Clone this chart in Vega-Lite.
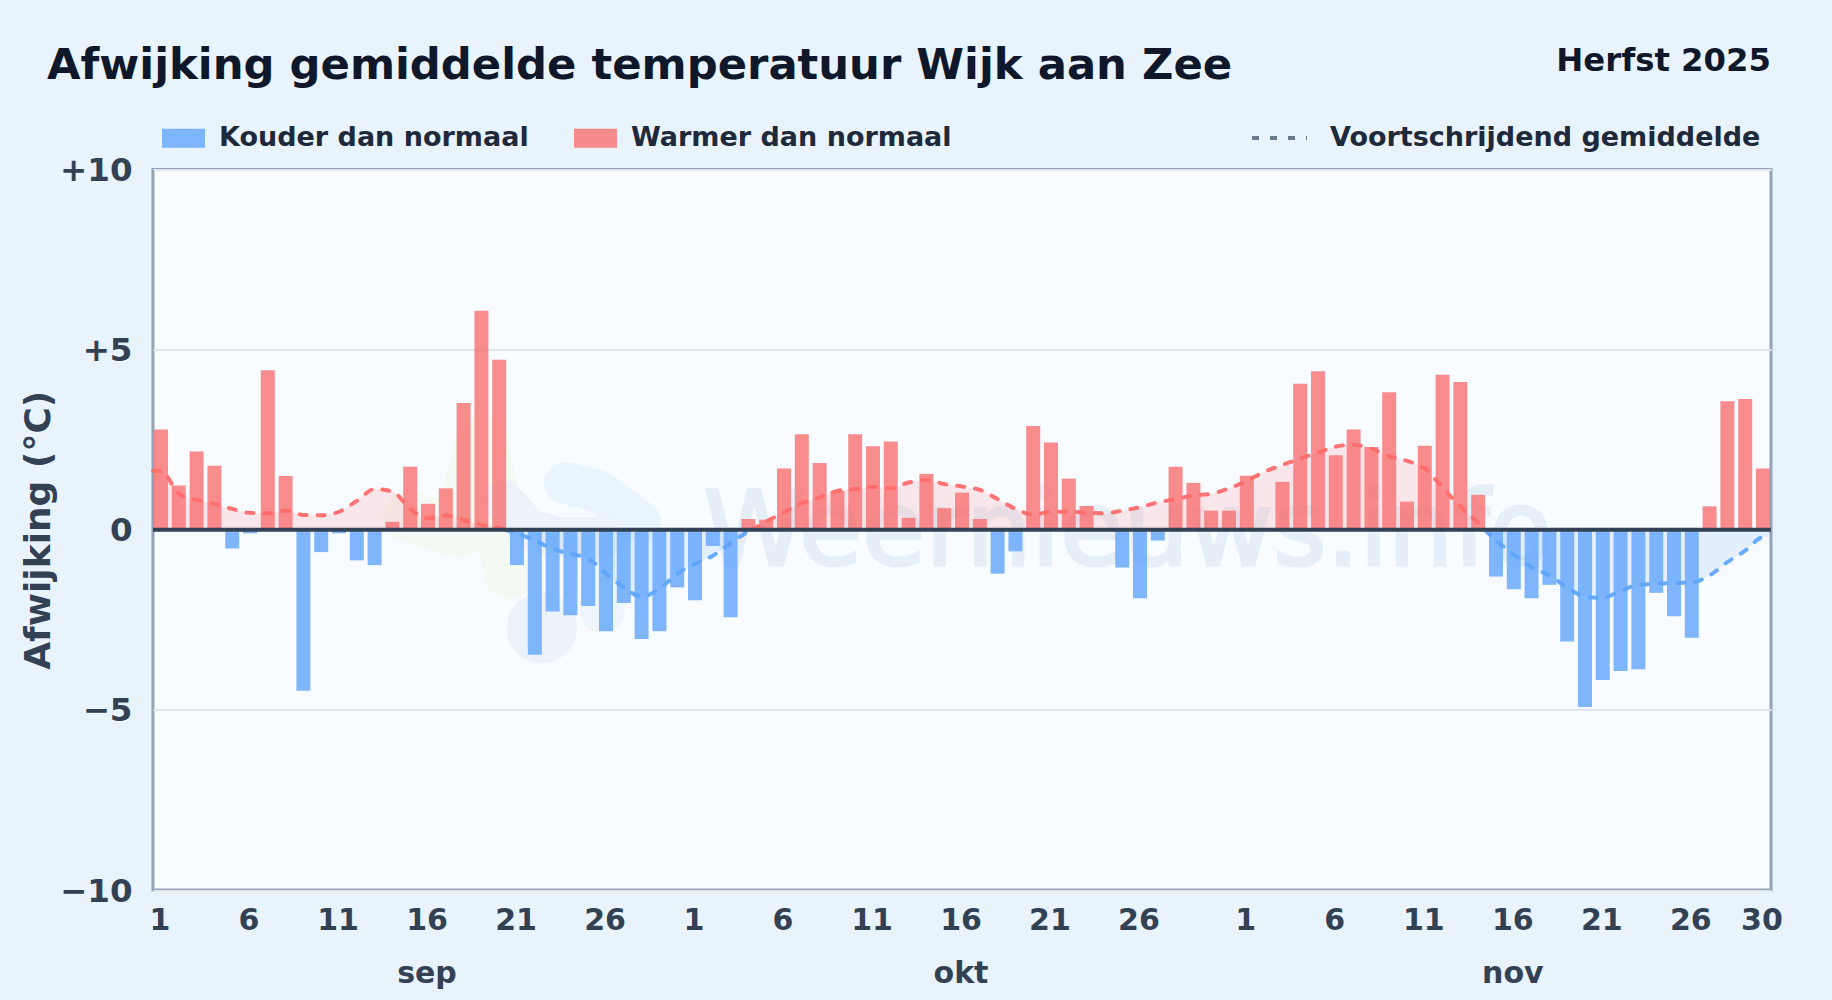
{
"$schema":"https://vega.github.io/schema/vega-lite/v6.json",
"width":1618,"height":720.5,
"autosize":{"type":"none"},
"padding":{"left":153,"top":169.5,"right":61,"bottom":110},
"background":"#e9f3fc",
"view":{"fill":"#f8fbff","stroke":"#94a3b8","strokeWidth":3},
"title":{"text":"Afwijking gemiddelde temperatuur Wijk aan Zee","anchor":"start","frame":"group","dx":-106,"offset":-44,"font":"DejaVu Sans","fontWeight":"bold","fontSize":43.3,"color":"#0f172a"},
"datasets":{
"staven":[
{"date":"2025-09-01","value":2.78,"categorie":"Warmer dan normaal"},{"date":"2025-09-02","value":1.23,"categorie":"Warmer dan normaal"},{"date":"2025-09-03","value":2.17,"categorie":"Warmer dan normaal"},{"date":"2025-09-04","value":1.78,"categorie":"Warmer dan normaal"},{"date":"2025-09-05","value":-0.52,"categorie":"Kouder dan normaal"},{"date":"2025-09-06","value":-0.1,"categorie":"Kouder dan normaal"},{"date":"2025-09-07","value":4.43,"categorie":"Warmer dan normaal"},{"date":"2025-09-08","value":1.49,"categorie":"Warmer dan normaal"},{"date":"2025-09-09","value":-4.47,"categorie":"Kouder dan normaal"},{"date":"2025-09-10","value":-0.62,"categorie":"Kouder dan normaal"},{"date":"2025-09-11","value":-0.1,"categorie":"Kouder dan normaal"},{"date":"2025-09-12","value":-0.85,"categorie":"Kouder dan normaal"},{"date":"2025-09-13","value":-0.98,"categorie":"Kouder dan normaal"},{"date":"2025-09-14","value":0.22,"categorie":"Warmer dan normaal"},{"date":"2025-09-15","value":1.75,"categorie":"Warmer dan normaal"},{"date":"2025-09-16","value":0.72,"categorie":"Warmer dan normaal"},{"date":"2025-09-17","value":1.15,"categorie":"Warmer dan normaal"},{"date":"2025-09-18","value":3.52,"categorie":"Warmer dan normaal"},{"date":"2025-09-19","value":6.08,"categorie":"Warmer dan normaal"},{"date":"2025-09-20","value":4.72,"categorie":"Warmer dan normaal"},{"date":"2025-09-21","value":-0.98,"categorie":"Kouder dan normaal"},{"date":"2025-09-22","value":-3.47,"categorie":"Kouder dan normaal"},{"date":"2025-09-23","value":-2.27,"categorie":"Kouder dan normaal"},{"date":"2025-09-24","value":-2.37,"categorie":"Kouder dan normaal"},{"date":"2025-09-25","value":-2.12,"categorie":"Kouder dan normaal"},{"date":"2025-09-26","value":-2.82,"categorie":"Kouder dan normaal"},{"date":"2025-09-27","value":-2.03,"categorie":"Kouder dan normaal"},{"date":"2025-09-28","value":-3.03,"categorie":"Kouder dan normaal"},{"date":"2025-09-29","value":-2.82,"categorie":"Kouder dan normaal"},{"date":"2025-09-30","value":-1.6,"categorie":"Kouder dan normaal"},
{"date":"2025-10-01","value":-1.96,"categorie":"Kouder dan normaal"},{"date":"2025-10-02","value":-0.45,"categorie":"Kouder dan normaal"},{"date":"2025-10-03","value":-2.43,"categorie":"Kouder dan normaal"},{"date":"2025-10-04","value":0.3,"categorie":"Warmer dan normaal"},{"date":"2025-10-05","value":0.28,"categorie":"Warmer dan normaal"},{"date":"2025-10-06","value":1.7,"categorie":"Warmer dan normaal"},{"date":"2025-10-07","value":2.65,"categorie":"Warmer dan normaal"},{"date":"2025-10-08","value":1.85,"categorie":"Warmer dan normaal"},{"date":"2025-10-09","value":1.08,"categorie":"Warmer dan normaal"},{"date":"2025-10-10","value":2.65,"categorie":"Warmer dan normaal"},{"date":"2025-10-11","value":2.32,"categorie":"Warmer dan normaal"},{"date":"2025-10-12","value":2.45,"categorie":"Warmer dan normaal"},{"date":"2025-10-13","value":0.33,"categorie":"Warmer dan normaal"},{"date":"2025-10-14","value":1.55,"categorie":"Warmer dan normaal"},{"date":"2025-10-15","value":0.6,"categorie":"Warmer dan normaal"},{"date":"2025-10-16","value":1.03,"categorie":"Warmer dan normaal"},{"date":"2025-10-17","value":0.3,"categorie":"Warmer dan normaal"},{"date":"2025-10-18","value":-1.22,"categorie":"Kouder dan normaal"},{"date":"2025-10-19","value":-0.6,"categorie":"Kouder dan normaal"},{"date":"2025-10-20","value":2.88,"categorie":"Warmer dan normaal"},{"date":"2025-10-21","value":2.42,"categorie":"Warmer dan normaal"},{"date":"2025-10-22","value":1.42,"categorie":"Warmer dan normaal"},{"date":"2025-10-23","value":0.66,"categorie":"Warmer dan normaal"},{"date":"2025-10-24","value":0,"categorie":"Warmer dan normaal"},{"date":"2025-10-25","value":-1.05,"categorie":"Kouder dan normaal"},{"date":"2025-10-26","value":-1.9,"categorie":"Kouder dan normaal"},{"date":"2025-10-27","value":-0.3,"categorie":"Kouder dan normaal"},{"date":"2025-10-28","value":1.75,"categorie":"Warmer dan normaal"},{"date":"2025-10-29","value":1.3,"categorie":"Warmer dan normaal"},{"date":"2025-10-30","value":0.53,"categorie":"Warmer dan normaal"},{"date":"2025-10-31","value":0.53,"categorie":"Warmer dan normaal"},
{"date":"2025-11-01","value":1.5,"categorie":"Warmer dan normaal"},{"date":"2025-11-02","value":0,"categorie":"Warmer dan normaal"},{"date":"2025-11-03","value":1.33,"categorie":"Warmer dan normaal"},{"date":"2025-11-04","value":4.05,"categorie":"Warmer dan normaal"},{"date":"2025-11-05","value":4.4,"categorie":"Warmer dan normaal"},{"date":"2025-11-06","value":2.07,"categorie":"Warmer dan normaal"},{"date":"2025-11-07","value":2.78,"categorie":"Warmer dan normaal"},{"date":"2025-11-08","value":2.3,"categorie":"Warmer dan normaal"},{"date":"2025-11-09","value":3.82,"categorie":"Warmer dan normaal"},{"date":"2025-11-10","value":0.78,"categorie":"Warmer dan normaal"},{"date":"2025-11-11","value":2.33,"categorie":"Warmer dan normaal"},{"date":"2025-11-12","value":4.3,"categorie":"Warmer dan normaal"},{"date":"2025-11-13","value":4.1,"categorie":"Warmer dan normaal"},{"date":"2025-11-14","value":0.97,"categorie":"Warmer dan normaal"},{"date":"2025-11-15","value":-1.3,"categorie":"Kouder dan normaal"},{"date":"2025-11-16","value":-1.65,"categorie":"Kouder dan normaal"},{"date":"2025-11-17","value":-1.9,"categorie":"Kouder dan normaal"},{"date":"2025-11-18","value":-1.53,"categorie":"Kouder dan normaal"},{"date":"2025-11-19","value":-3.1,"categorie":"Kouder dan normaal"},{"date":"2025-11-20","value":-4.92,"categorie":"Kouder dan normaal"},{"date":"2025-11-21","value":-4.17,"categorie":"Kouder dan normaal"},{"date":"2025-11-22","value":-3.92,"categorie":"Kouder dan normaal"},{"date":"2025-11-23","value":-3.87,"categorie":"Kouder dan normaal"},{"date":"2025-11-24","value":-1.75,"categorie":"Kouder dan normaal"},{"date":"2025-11-25","value":-2.4,"categorie":"Kouder dan normaal"},{"date":"2025-11-26","value":-3.0,"categorie":"Kouder dan normaal"},{"date":"2025-11-27","value":0.65,"categorie":"Warmer dan normaal"},{"date":"2025-11-28","value":3.57,"categorie":"Warmer dan normaal"},{"date":"2025-11-29","value":3.63,"categorie":"Warmer dan normaal"},{"date":"2025-11-30","value":1.7,"categorie":"Warmer dan normaal"}
],
"gemiddelde":[
{"date":"2025-08-31T13:12:00Z","value":1.64,"categorie":"Warmer dan normaal","deel":"a"},{"date":"2025-09-01","value":1.64,"categorie":"Warmer dan normaal","deel":"a"},{"date":"2025-09-02","value":1.0,"categorie":"Warmer dan normaal","deel":"a"},{"date":"2025-09-03","value":0.83,"categorie":"Warmer dan normaal","deel":"a"},{"date":"2025-09-04","value":0.72,"categorie":"Warmer dan normaal","deel":"a"},{"date":"2025-09-05","value":0.58,"categorie":"Warmer dan normaal","deel":"a"},{"date":"2025-09-06","value":0.47,"categorie":"Warmer dan normaal","deel":"a"},{"date":"2025-09-07","value":0.46,"categorie":"Warmer dan normaal","deel":"a"},{"date":"2025-09-08","value":0.53,"categorie":"Warmer dan normaal","deel":"a"},{"date":"2025-09-09","value":0.41,"categorie":"Warmer dan normaal","deel":"a"},{"date":"2025-09-10","value":0.4,"categorie":"Warmer dan normaal","deel":"a"},{"date":"2025-09-11","value":0.5,"categorie":"Warmer dan normaal","deel":"a"},{"date":"2025-09-12","value":0.8,"categorie":"Warmer dan normaal","deel":"a"},{"date":"2025-09-13","value":1.13,"categorie":"Warmer dan normaal","deel":"a"},{"date":"2025-09-14","value":1.06,"categorie":"Warmer dan normaal","deel":"a"},{"date":"2025-09-15","value":0.58,"categorie":"Warmer dan normaal","deel":"a"},{"date":"2025-09-16","value":0.32,"categorie":"Warmer dan normaal","deel":"a"},{"date":"2025-09-17","value":0.4,"categorie":"Warmer dan normaal","deel":"a"},{"date":"2025-09-18","value":0.27,"categorie":"Warmer dan normaal","deel":"a"},{"date":"2025-09-19","value":0.14,"categorie":"Warmer dan normaal","deel":"a"},{"date":"2025-09-20","value":0.05,"categorie":"Warmer dan normaal","deel":"a"},{"date":"2025-09-20T08:00:00Z","value":0,"categorie":"Warmer dan normaal","deel":"a"},
{"date":"2025-09-20T08:00:00Z","value":0,"categorie":"Kouder dan normaal","deel":"b"},{"date":"2025-09-21","value":-0.1,"categorie":"Kouder dan normaal","deel":"b"},{"date":"2025-09-22","value":-0.3,"categorie":"Kouder dan normaal","deel":"b"},{"date":"2025-09-23","value":-0.53,"categorie":"Kouder dan normaal","deel":"b"},{"date":"2025-09-24","value":-0.67,"categorie":"Kouder dan normaal","deel":"b"},{"date":"2025-09-25","value":-0.8,"categorie":"Kouder dan normaal","deel":"b"},{"date":"2025-09-26","value":-1.22,"categorie":"Kouder dan normaal","deel":"b"},{"date":"2025-09-27","value":-1.6,"categorie":"Kouder dan normaal","deel":"b"},{"date":"2025-09-28","value":-1.86,"categorie":"Kouder dan normaal","deel":"b"},{"date":"2025-09-29","value":-1.64,"categorie":"Kouder dan normaal","deel":"b"},{"date":"2025-09-30","value":-1.22,"categorie":"Kouder dan normaal","deel":"b"},{"date":"2025-10-01","value":-0.95,"categorie":"Kouder dan normaal","deel":"b"},{"date":"2025-10-02","value":-0.72,"categorie":"Kouder dan normaal","deel":"b"},{"date":"2025-10-03","value":-0.37,"categorie":"Kouder dan normaal","deel":"b"},{"date":"2025-10-04","value":-0.05,"categorie":"Kouder dan normaal","deel":"b"},{"date":"2025-10-04T05:00:00Z","value":0,"categorie":"Kouder dan normaal","deel":"b"},
{"date":"2025-10-04T05:00:00Z","value":0,"categorie":"Warmer dan normaal","deel":"c"},{"date":"2025-10-05","value":0.23,"categorie":"Warmer dan normaal","deel":"c"},{"date":"2025-10-06","value":0.48,"categorie":"Warmer dan normaal","deel":"c"},{"date":"2025-10-07","value":0.74,"categorie":"Warmer dan normaal","deel":"c"},{"date":"2025-10-08","value":0.9,"categorie":"Warmer dan normaal","deel":"c"},{"date":"2025-10-09","value":1.08,"categorie":"Warmer dan normaal","deel":"c"},{"date":"2025-10-10","value":1.13,"categorie":"Warmer dan normaal","deel":"c"},{"date":"2025-10-11","value":1.19,"categorie":"Warmer dan normaal","deel":"c"},{"date":"2025-10-12","value":1.15,"categorie":"Warmer dan normaal","deel":"c"},{"date":"2025-10-13","value":1.31,"categorie":"Warmer dan normaal","deel":"c"},{"date":"2025-10-14","value":1.38,"categorie":"Warmer dan normaal","deel":"c"},{"date":"2025-10-15","value":1.27,"categorie":"Warmer dan normaal","deel":"c"},{"date":"2025-10-16","value":1.2,"categorie":"Warmer dan normaal","deel":"c"},{"date":"2025-10-17","value":1.11,"categorie":"Warmer dan normaal","deel":"c"},{"date":"2025-10-18","value":0.85,"categorie":"Warmer dan normaal","deel":"c"},{"date":"2025-10-19","value":0.58,"categorie":"Warmer dan normaal","deel":"c"},{"date":"2025-10-20","value":0.42,"categorie":"Warmer dan normaal","deel":"c"},{"date":"2025-10-21","value":0.5,"categorie":"Warmer dan normaal","deel":"c"},{"date":"2025-10-22","value":0.5,"categorie":"Warmer dan normaal","deel":"c"},{"date":"2025-10-23","value":0.47,"categorie":"Warmer dan normaal","deel":"c"},{"date":"2025-10-24","value":0.46,"categorie":"Warmer dan normaal","deel":"c"},{"date":"2025-10-25","value":0.53,"categorie":"Warmer dan normaal","deel":"c"},{"date":"2025-10-26","value":0.63,"categorie":"Warmer dan normaal","deel":"c"},{"date":"2025-10-27","value":0.76,"categorie":"Warmer dan normaal","deel":"c"},{"date":"2025-10-28","value":0.85,"categorie":"Warmer dan normaal","deel":"c"},{"date":"2025-10-29","value":0.95,"categorie":"Warmer dan normaal","deel":"c"},{"date":"2025-10-30","value":1.0,"categorie":"Warmer dan normaal","deel":"c"},{"date":"2025-10-31","value":1.15,"categorie":"Warmer dan normaal","deel":"c"},{"date":"2025-11-01","value":1.36,"categorie":"Warmer dan normaal","deel":"c"},{"date":"2025-11-02","value":1.61,"categorie":"Warmer dan normaal","deel":"c"},{"date":"2025-11-03","value":1.8,"categorie":"Warmer dan normaal","deel":"c"},{"date":"2025-11-04","value":1.98,"categorie":"Warmer dan normaal","deel":"c"},{"date":"2025-11-05","value":2.14,"categorie":"Warmer dan normaal","deel":"c"},{"date":"2025-11-06","value":2.31,"categorie":"Warmer dan normaal","deel":"c"},{"date":"2025-11-07","value":2.36,"categorie":"Warmer dan normaal","deel":"c"},{"date":"2025-11-08","value":2.25,"categorie":"Warmer dan normaal","deel":"c"},{"date":"2025-11-09","value":2.04,"categorie":"Warmer dan normaal","deel":"c"},{"date":"2025-11-10","value":1.91,"categorie":"Warmer dan normaal","deel":"c"},{"date":"2025-11-11","value":1.7,"categorie":"Warmer dan normaal","deel":"c"},{"date":"2025-11-12","value":1.17,"categorie":"Warmer dan normaal","deel":"c"},{"date":"2025-11-13","value":0.64,"categorie":"Warmer dan normaal","deel":"c"},{"date":"2025-11-14","value":0.19,"categorie":"Warmer dan normaal","deel":"c"},{"date":"2025-11-14T09:00:00Z","value":0,"categorie":"Warmer dan normaal","deel":"c"},
{"date":"2025-11-14T09:00:00Z","value":0,"categorie":"Kouder dan normaal","deel":"d"},{"date":"2025-11-15","value":-0.3,"categorie":"Kouder dan normaal","deel":"d"},{"date":"2025-11-16","value":-0.69,"categorie":"Kouder dan normaal","deel":"d"},{"date":"2025-11-17","value":-1.04,"categorie":"Kouder dan normaal","deel":"d"},{"date":"2025-11-18","value":-1.27,"categorie":"Kouder dan normaal","deel":"d"},{"date":"2025-11-19","value":-1.6,"categorie":"Kouder dan normaal","deel":"d"},{"date":"2025-11-20","value":-1.86,"categorie":"Kouder dan normaal","deel":"d"},{"date":"2025-11-21","value":-1.89,"categorie":"Kouder dan normaal","deel":"d"},{"date":"2025-11-22","value":-1.7,"categorie":"Kouder dan normaal","deel":"d"},{"date":"2025-11-23","value":-1.53,"categorie":"Kouder dan normaal","deel":"d"},{"date":"2025-11-24","value":-1.5,"categorie":"Kouder dan normaal","deel":"d"},{"date":"2025-11-25","value":-1.48,"categorie":"Kouder dan normaal","deel":"d"},{"date":"2025-11-26","value":-1.46,"categorie":"Kouder dan normaal","deel":"d"},{"date":"2025-11-27","value":-1.27,"categorie":"Kouder dan normaal","deel":"d"},{"date":"2025-11-28","value":-0.9,"categorie":"Kouder dan normaal","deel":"d"},{"date":"2025-11-29","value":-0.58,"categorie":"Kouder dan normaal","deel":"d"},{"date":"2025-11-30","value":-0.2,"categorie":"Kouder dan normaal","deel":"d"},{"date":"2025-11-30T10:48:00Z","value":-0.18,"categorie":"Kouder dan normaal","deel":"d"}
],
"logo":[
{"date":"2025-09-19T01:00:00Z","value":2.41,"vorm":"groen"},{"date":"2025-09-18T08:00:00Z","value":1.19,"vorm":"groen"},{"date":"2025-09-14T23:00:00Z","value":0.35,"vorm":"groen"},{"date":"2025-09-17T18:00:00Z","value":-0.06,"vorm":"groen"},{"date":"2025-09-20T14:00:00Z","value":-1.2,"vorm":"groen"},
{"date":"2025-09-20T05:00:00Z","value":0.82,"vorm":"grijs"},{"date":"2025-09-21T18:00:00Z","value":-0.01,"vorm":"grijs"},{"date":"2025-09-23T10:00:00Z","value":-0.2,"vorm":"grijs"},{"date":"2025-09-26T00:00:00Z","value":-0.2,"vorm":"grijs"},
{"date":"2025-09-23T17:00:00Z","value":1.3,"vorm":"blauw"},{"date":"2025-09-25T16:00:00Z","value":1.05,"vorm":"blauw"},{"date":"2025-09-27T22:00:00Z","value":0.21,"vorm":"blauw"},
{"date":"2025-09-25T22:00:00Z","value":-0.9,"vorm":"blauw2"},{"date":"2025-09-25T19:00:00Z","value":-2.23,"vorm":"blauw2"},
{"date":"2025-09-22T09:00:00Z","value":-2.73,"vorm":"rond"},{"date":"2025-09-22T10:00:00Z","value":-2.73,"vorm":"rond"}
]
},
"layer":[
{"data":{"name":"logo"},"transform":[{"filter":"datum.vorm=='blauw2'"}],"mark":{"type":"line","strokeWidth":45,"strokeCap":"round","strokeJoin":"round","color":"#eef6fd"},"encoding":{"x":{"field":"date","type":"temporal"},"y":{"field":"value","type":"quantitative"},"order":null}},
{"data":{"name":"logo"},"transform":[{"filter":"datum.vorm=='groen'"}],"mark":{"type":"line","strokeWidth":52,"strokeCap":"round","strokeJoin":"round","color":"#f4f9f4"},"encoding":{"x":{"field":"date","type":"temporal"},"y":{"field":"value","type":"quantitative"},"order":null}},
{"data":{"name":"logo"},"transform":[{"filter":"datum.vorm=='blauw'"}],"mark":{"type":"line","strokeWidth":42,"strokeCap":"round","strokeJoin":"round","color":"#e9f4fd"},"encoding":{"x":{"field":"date","type":"temporal"},"y":{"field":"value","type":"quantitative"},"order":null}},
{"data":{"name":"logo"},"transform":[{"filter":"datum.vorm=='grijs'"}],"mark":{"type":"line","strokeWidth":40,"strokeCap":"round","strokeJoin":"round","color":"#ebf2f9"},"encoding":{"x":{"field":"date","type":"temporal"},"y":{"field":"value","type":"quantitative"},"order":null}},
{"data":{"name":"logo"},"transform":[{"filter":"datum.vorm=='rond'"}],"mark":{"type":"line","strokeWidth":70,"strokeCap":"round","color":"#ebf2f9"},"encoding":{"x":{"field":"date","type":"temporal"},"y":{"field":"value","type":"quantitative"},"order":null}},
{"data":{"values":[{"date":"2025-10-01T11:00:00Z","value":-0.98}]},"mark":{"type":"text","text":"Weernieuws.info","align":"left","baseline":"alphabetic","font":"DejaVu Sans","fontSize":103,"color":"#e6eff8","stroke":"#e6eff8","strokeWidth":3},"encoding":{"x":{"field":"date","type":"temporal"},"y":{"field":"value","type":"quantitative"}}},
{"data":{"name":"gemiddelde"},"mark":{"type":"area","interpolate":"monotone","opacity":0.14},"encoding":{"x":{"field":"date","type":"temporal"},"y":{"field":"value","type":"quantitative"},"y2":{"datum":0},"fill":{"condition":{"test":"datum.categorie=='Warmer dan normaal'","value":"#ff6b6b"},"value":"#60a5fa"},"detail":{"field":"deel"}}},
{"data":{"name":"staven"},"mark":{"type":"bar","width":14,"opacity":0.8},
"encoding":{
"x":{"field":"date","type":"temporal","title":null,
"scale":{"type":"utc","nice":false,"padding":0,"domain":[1756645920000,1764499680000]},
"axis":{"values":[1756684800000,1757116800000,1757548800000,1757980800000,1758412800000,1758844800000,1759276800000,1759708800000,1760140800000,1760572800000,1761004800000,1761436800000,1761955200000,1762387200000,1762819200000,1763251200000,1763683200000,1764115200000,1764460800000],
"labelExpr":"utcdate(datum.value)==16 ? ['16', utcmonth(datum.value)==8 ? 'sep' : utcmonth(datum.value)==9 ? 'okt' : 'nov'] : ''+utcdate(datum.value)",
"grid":false,"domain":false,"ticks":false,"labelFont":"DejaVu Sans","labelFontWeight":"bold","labelFontSize":30,"labelColor":"#334155","labelPadding":15,"labelLineHeight":53,"labelOffset":-1.5,"labelOverlap":false,"labelFlush":false,"labelBound":false}},
"y":{"field":"value","type":"quantitative","title":"Afwijking (°C)",
"scale":{"domain":[-10,10],"nice":false,"zero":false},
"axis":{"values":[-10,-5,0,5,10],"labelExpr":"datum.value>0 ? '+'+datum.value : datum.value<0 ? '−'+abs(datum.value) : '0'",
"grid":true,"gridColor":"#e0e6ea","gridWidth":2,"domain":false,"ticks":false,"labelFont":"DejaVu Sans","labelFontWeight":"bold","labelFontSize":32.5,"labelColor":"#334155","labelPadding":21,"labelOffset":1,"labelOverlap":false,"labelBound":false,"labelFlush":false,
"titleFont":"DejaVu Sans","titleFontWeight":"bold","titleFontSize":36,"titleColor":"#334155","titlePadding":2}},
"fill":{"field":"categorie","type":"nominal","title":null,
"scale":{"domain":["Kouder dan normaal","Warmer dan normaal"],"range":["#60a5fa","#f87171"]},
"legend":{"orient":"none","legendX":9,"legendY":-53,"direction":"horizontal","columns":2,"columnPadding":45,"symbolType":"M-1,-0.44H1V0.44H-1Z","symbolSize":1849,"symbolStrokeWidth":0,"labelFont":"DejaVu Sans","labelFontWeight":"bold","labelFontSize":27,"labelColor":"#1e293b","labelOffset":14,"labelLimit":500}}
}},
{"data":{"name":"gemiddelde"},"mark":{"type":"line","interpolate":"monotone","strokeWidth":4,"strokeCap":"round","opacity":0.95},"encoding":{"x":{"field":"date","type":"temporal"},"y":{"field":"value","type":"quantitative"},
"stroke":{"field":"categorie","type":"nominal","legend":null,"scale":{"domain":["Kouder dan normaal","Warmer dan normaal"],"range":["#60a5fa","#ff6b6b"]}},
"detail":{"field":"deel"},
"strokeDash":{"datum":"Voortschrijdend gemiddelde","title":null,"scale":{"range":[[7,11]]},
"legend":{"orient":"none","legendX":1097,"legendY":-61,"symbolType":"stroke","symbolSize":3025,"symbolStrokeWidth":4,"symbolStrokeColor":"#64748b","labelFont":"DejaVu Sans","labelFontWeight":"bold","labelFontSize":27,"labelColor":"#1e293b","labelOffset":21,"labelLimit":600,
"encode":{"symbols":{"update":{"strokeDash":{"value":[5,13]},"stroke":{"value":"#64748b"}}}}}}}},
{"data":{"values":[{"value":0}]},"mark":{"type":"rule","color":"#334155","strokeWidth":4},"encoding":{"y":{"field":"value","type":"quantitative"}}},
{"data":{"values":[{"date":"2025-11-30T10:48:00Z","value":10}]},"mark":{"type":"text","text":"Herfst 2025","align":"right","baseline":"middle","yOffset":-109,"font":"DejaVu Sans","fontWeight":"bold","fontSize":32.3,"color":"#0f172a"},"encoding":{"x":{"field":"date","type":"temporal"},"y":{"field":"value","type":"quantitative"}}}
]
}
